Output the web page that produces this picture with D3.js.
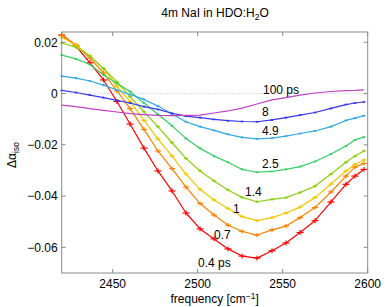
<!DOCTYPE html>
<html>
<head>
<meta charset="utf-8">
<script src="https://cdn.jsdelivr.net/npm/d3@7"></script>
<style>
  body { margin: 0; background: #fff; }
  text { font-family: "Liberation Sans", Arial, sans-serif; fill: #000; }
</style>
</head>
<body>
<script>
// chart of isotropic absorption change vs frequency, one curve per delay

const freqs = [2420.0, 2428.4, 2436.6, 2444.6, 2452.5, 2460.2, 2468.4, 2476.6, 2484.9, 2493.1, 2501.4, 2509.6,
    2517.8, 2526.1, 2534.9, 2543.7, 2551.9, 2560.2, 2569.0, 2578.4, 2587.2, 2592.5, 2597.8];

const delays = ['0.4 ps', '0.7', '1', '1.4', '2.5', '4.9', '8', '100 ps'];

const v04 = [0.0228, 0.0185, 0.0120, 0.0053, -0.0031, -0.0119, -0.0213, -0.0302, -0.0380, -0.0466, -0.0528, -0.0567,
    -0.0606, -0.0634, -0.0642, -0.0613, -0.0583, -0.0542, -0.0496, -0.0423, -0.0354, -0.0322, -0.0296];
const v07 = [0.0230, 0.0189, 0.0138, 0.0080, 0.0010, -0.0059, -0.0140, -0.0224, -0.0293, -0.0365, -0.0429, -0.0474,
    -0.0513, -0.0538, -0.0552, -0.0532, -0.0517, -0.0484, -0.0445, -0.0384, -0.0322, -0.0287, -0.0273];
const v1 = [0.0220, 0.0189, 0.0146, 0.0096, 0.0029, -0.0031, -0.0105, -0.0177, -0.0244, -0.0314, -0.0374, -0.0415,
    -0.0448, -0.0480, -0.0496, -0.0484, -0.0466, -0.0443, -0.0406, -0.0353, -0.0302, -0.0277, -0.0259];
const v14 = [0.0197, 0.0181, 0.0146, 0.0098, 0.0045, -0.0012, -0.0071, -0.0129, -0.0192, -0.0253, -0.0302, -0.0341,
    -0.0376, -0.0405, -0.0422, -0.0413, -0.0406, -0.0386, -0.0361, -0.0314, -0.0268, -0.0244, -0.0224];
const v25 = [0.0150, 0.0135, 0.0113, 0.0072, 0.0040, 0.0008, -0.0037, -0.0081, -0.0126, -0.0175, -0.0214, -0.0244,
    -0.0268, -0.0296, -0.0307, -0.0304, -0.0296, -0.0285, -0.0265, -0.0236, -0.0205, -0.0181, -0.0170];
const v49 = [0.0068, 0.0060, 0.0049, 0.0033, 0.0014, -0.0004, -0.0023, -0.0049, -0.0080, -0.0110, -0.0129, -0.0144,
    -0.0159, -0.0171, -0.0177, -0.0174, -0.0166, -0.0156, -0.0146, -0.0129, -0.0105, -0.0096, -0.0086];
const v8 = [0.0012, 0.0004, -0.0006, -0.0016, -0.0027, -0.0037, -0.0051, -0.0062, -0.0077, -0.0088, -0.0094, -0.0101,
    -0.0106, -0.0109, -0.0110, -0.0103, -0.0094, -0.0084, -0.0074, -0.0058, -0.0043, -0.0037, -0.0033];
const v100 = [-0.0045, -0.0051, -0.0059, -0.0066, -0.0072, -0.0078, -0.0082, -0.0085, -0.0086, -0.0085, -0.0084, -0.0076,
    -0.0068, -0.0057, -0.0041, -0.0025, -0.0016, -0.0006, 0.0002, 0.0008, 0.0011, 0.0012, 0.0014];

const seriesValues = [v04, v07, v1, v14, v25, v49, v8, v100];

const labelFreq = [2500.2, 2509.6, 2520.8, 2527.8, 2537.8, 2537.8, 2537.8, 2538.4];
const labelVal = [-0.0677, -0.0568, -0.0466, -0.0400, -0.0290, -0.0162, -0.0088, -0.0002];

const xTicks = [2450, 2500, 2550, 2600];
const yTicks = [0.02, 0, -0.02, -0.04, -0.06];

const colors = ['#ff0000', '#ff8000', '#f2c600', '#8ccf10', '#30d060', '#30a8e0', '#3838e8', '#c040c0'];
const capSize = [3.5, 3, 2.5, 2, 1.5, 1.5, 1.5, 0];

const width = 385, height = 307;
const margin = { top: 32, right: 17.3, bottom: 34, left: 61.7 };
const fs = 12;

const svg = d3.select('body').append('svg')
    .attr('width', width)
    .attr('height', height);

const x = d3.scaleLinear()
    .domain([2420, 2600])
    .range([margin.left, width - margin.right]);

const y = d3.scaleLinear()
    .domain([-0.07, 0.024])
    .range([height - margin.bottom, margin.top]);

const axisColor = '#8a8a8a';

// zero reference line
svg.append('line')
    .attr('x1', x.range()[0]).attr('x2', x.range()[1])
    .attr('y1', y(0)).attr('y2', y(0))
    .attr('stroke', '#c4c4c4')
    .attr('stroke-width', 1)
    .attr('stroke-dasharray', '1,2');

// curves
const line = d3.line()
    .x(d => x(d[0]))
    .y(d => y(d[1]));

seriesValues.forEach((vals, i) => {
    let pts = freqs.map((f, j) => [f, vals[j]]);
    svg.append('path')
        .datum(pts)
        .attr('fill', 'none')
        .attr('stroke', colors[i])
        .attr('stroke-width', 1.2)
        .attr('stroke-linejoin', 'round')
        .attr('d', line);

    if (capSize[i] > 0) {
        let g = svg.append('g').attr('stroke', colors[i]).attr('stroke-width', 1.2);
        pts.forEach(p => {
            let cx = x(p[0]), cy = y(p[1]), c = capSize[i];
            g.append('line')
                .attr('x1', cx - c).attr('x2', cx + c)
                .attr('y1', cy).attr('y2', cy);
            g.append('line')
                .attr('x1', cx).attr('x2', cx)
                .attr('y1', cy - c * 0.7).attr('y2', cy + c * 0.7);
        });
    }
});

// labels
delays.forEach((t, i) => {
    svg.append('text')
        .attr('x', x(labelFreq[i]))
        .attr('y', y(labelVal[i]))
        .attr('font-size', fs)
        .text(t);
});

// box + ticks (inward, all sides)
const axisG = svg.append('g').attr('stroke', axisColor).attr('stroke-width', 1).attr('fill', 'none');
axisG.append('rect')
    .attr('x', x.range()[0]).attr('y', y.range()[1])
    .attr('width', x.range()[1] - x.range()[0])
    .attr('height', y.range()[0] - y.range()[1]);

xTicks.forEach(t => {
    axisG.append('line').attr('x1', x(t)).attr('x2', x(t)).attr('y1', y.range()[0]).attr('y2', y.range()[0] - 4);
    axisG.append('line').attr('x1', x(t)).attr('x2', x(t)).attr('y1', y.range()[1]).attr('y2', y.range()[1] + 4);
    svg.append('text')
        .attr('x', x(t))
        .attr('y', y.range()[0] + 15)
        .attr('text-anchor', 'middle')
        .attr('font-size', fs)
        .text(t);
});

yTicks.forEach(t => {
    axisG.append('line').attr('x1', x.range()[0]).attr('x2', x.range()[0] + 4).attr('y1', y(t)).attr('y2', y(t));
    axisG.append('line').attr('x1', x.range()[1]).attr('x2', x.range()[1] - 4).attr('y1', y(t)).attr('y2', y(t));
    svg.append('text')
        .attr('x', x.range()[0] - 4)
        .attr('y', y(t) + 4.3)
        .attr('text-anchor', 'end')
        .attr('font-size', fs)
        .text(t === 0 ? '0' : d3.format('.2f')(t).replace('-', '\u2212'));
});

// title
let title = svg.append('text')
    .attr('x', 215)
    .attr('y', 17)
    .attr('text-anchor', 'middle')
    .attr('font-size', fs);
title.append('tspan').text('4m NaI in HDO:H');
title.append('tspan').attr('font-size', 8.5).attr('dy', 3).text('2');
title.append('tspan').attr('dy', -3).text('O');

// x label
let xl = svg.append('text')
    .attr('x', x(2510))
    .attr('y', 303)
    .attr('text-anchor', 'middle')
    .attr('font-size', fs);
xl.append('tspan').text('frequency [cm');
xl.append('tspan').attr('font-size', 8.5).attr('dy', -4).text('\u22121');
xl.append('tspan').attr('dy', 4).text(']');

// y label
let yl = svg.append('text')
    .attr('transform', 'translate(16,' + 155 + ') rotate(-90)')
    .attr('text-anchor', 'middle')
    .attr('font-size', fs);
yl.append('tspan').text('\u0394\u03b1');
yl.append('tspan').attr('font-size', 8.5).attr('dy', 3).text('iso');
</script>
</body>
</html>
